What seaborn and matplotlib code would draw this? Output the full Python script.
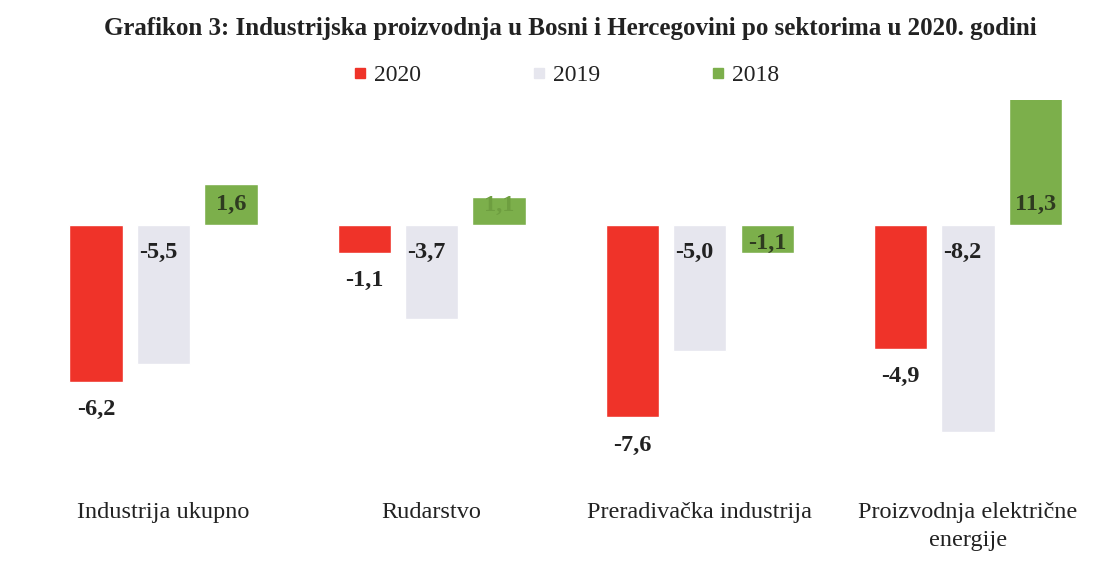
import numpy as np
import pandas as pd
import seaborn as sns
import matplotlib.pyplot as plt

# Data
sectors = ["Industrija ukupno", "Rudarstvo", "Preradivačka industrija",
           "Proizvodnja električne\nenergije"]
years = ["2020", "2019", "2018"]
vals_2020 = [-6.2, -1.1, -7.6, -4.9]
vals_2019 = [-5.5, -3.7, -5.0, -8.2]
vals_2018 = [1.6, 1.1, -1.1, 11.3]
colors = ["#EF3329", "#E6E6EE", "#7CAF4B"]

df = pd.DataFrame({
    "sektor": sectors * 3,
    "godina": ["2020"] * 4 + ["2019"] * 4 + ["2018"] * 4,
    "vrijednost": vals_2020 + vals_2019 + vals_2018,
})

sns.set_style("white")
plt.rcParams["font.family"] = ["Liberation Serif", "DejaVu Serif"]

fig = plt.figure(figsize=(11.1, 5.77), dpi=100)
ax = fig.add_axes([0, 0.168, 1, 0.659])

sns.barplot(data=df, x="sektor", y="vrijednost", hue="godina", order=sectors,
            hue_order=years, palette=colors, width=0.755, gap=0.21,
            saturation=1, errorbar=None, legend=False, ax=ax)

ax.set_xlim(-0.61, 3.53)
ax.set_ylim(-10.08, 4.94)
ax.set_xlabel("")
ax.set_ylabel("")
ax.set_yticks([])
ax.tick_params(axis="x", length=0, pad=16, labelsize=17.5, labelcolor="#222222")
for lbl in ax.get_xticklabels():
    lbl.set_verticalalignment("top")
    lbl.set_linespacing(1.4)
sns.despine(ax=ax, left=True, bottom=True, top=True, right=True)

# value labels
step = 0.755 / 3
fmt = lambda v: f"{v:.1f}".replace(".", ",")
fs = 17.5
for i in range(len(sectors)):
    v = vals_2020[i]
    ax.text(i - step, v - 1.1, fmt(v), ha="center", va="center",
            fontsize=fs, fontweight="bold", color="#222222")
    v = vals_2019[i]
    ax.text(i - 0.02, -1.1, fmt(v), ha="center", va="center",
            fontsize=fs, fontweight="bold", color="#222222")
    v = vals_2018[i]
    y = np.sign(v) * min(abs(v) / 2 + 0.2, 0.8)
    c = "#6E9E40" if i == 1 else "#2E3A20"
    ax.text(i + step, y, fmt(v), ha="center", va="center",
            fontsize=fs, fontweight="bold", color=c)

# legend
handles = [plt.Line2D([], [], marker="s", linestyle="", markersize=7,
                      color=c) for c in colors]
fig.legend(handles, years, loc="center", bbox_to_anchor=(0.51, 0.87),
           ncol=3, frameon=False, fontsize=17, handlelength=0.6,
           handletextpad=0.3, columnspacing=4.7, labelcolor="#222222")

fig.suptitle("Grafikon 3: Industrijska proizvodnja u Bosni i Hercegovini "
             "po sektorima u 2020. godini", x=0.514, y=0.97,
             fontsize=18, fontweight="bold", color="#222222")

fig.savefig("out.png", dpi=100)
